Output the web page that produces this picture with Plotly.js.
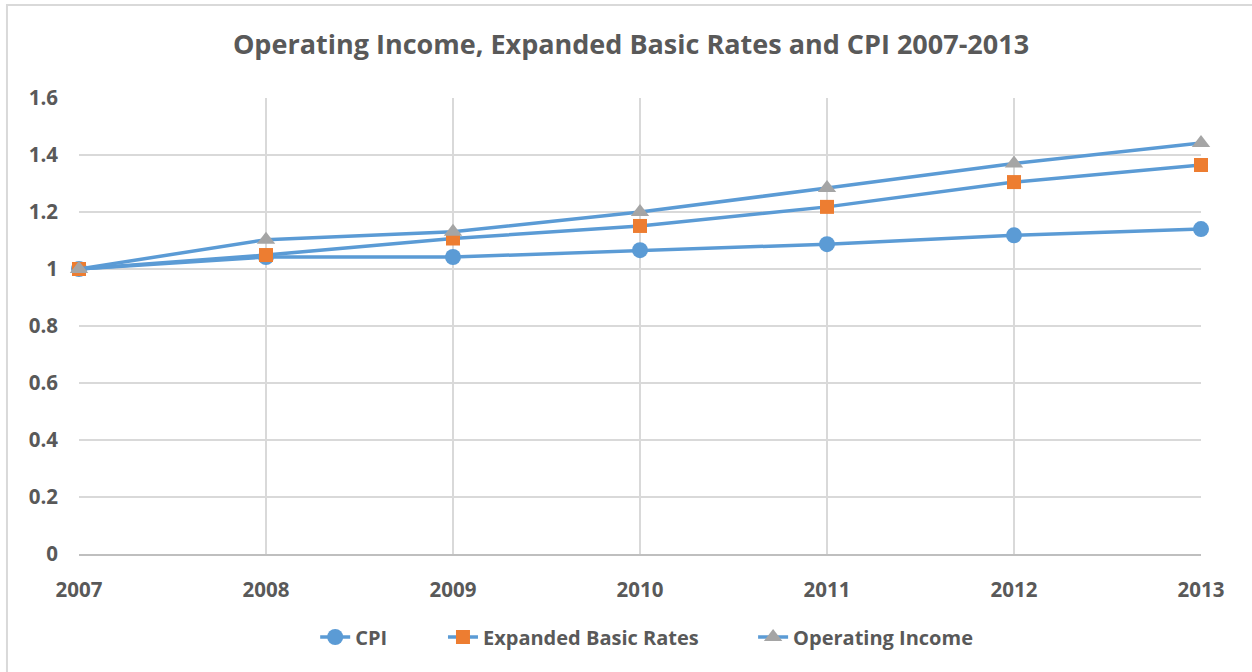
<!DOCTYPE html>
<html>
<head>
<meta charset="utf-8">
<script src="https://cdn.plot.ly/plotly-3.0.1.min.js"></script>
<style>html,body{margin:0;padding:0;background:#fff;}#chart{width:1252px;height:672px;}</style>
</head>
<body>
<div id="chart"></div>
<script>
var years = [2007, 2008, 2009, 2010, 2011, 2012, 2013];
var cpi = [1.0, 1.042, 1.042, 1.066, 1.087, 1.118, 1.140];
var expandedBasicRates = [1.0, 1.049, 1.107, 1.151, 1.218, 1.305, 1.365];
var operatingIncome = [1.0, 1.103, 1.131, 1.200, 1.284, 1.370, 1.442];
var yTicks = [0, 0.2, 0.4, 0.6, 0.8, 1, 1.2, 1.4, 1.6];
var yTickText = ['0', '0.2', '0.4', '0.6', '0.8', '1', '1.2', '1.4', '1.6'];

var lineColor = '#5B9BD5';
var font = 'Open Sans, sans-serif';
var textColor = '#595959';

var traces = [
  {x: years, y: cpi, name: 'CPI', mode: 'lines+markers', type: 'scatter', cliponaxis: false,
   legend: 'legend',
   line: {color: lineColor, width: 3.5},
   marker: {symbol: 'circle', size: 16, color: '#5B9BD5'}},
  {x: years, y: expandedBasicRates, name: 'Expanded Basic Rates', mode: 'lines+markers', type: 'scatter', cliponaxis: false,
   legend: 'legend2',
   line: {color: lineColor, width: 3.5},
   marker: {symbol: 'square', size: 14, color: '#ED7D31'}},
  {x: years, y: operatingIncome, name: 'Operating Income', mode: 'lines+markers', type: 'scatter', cliponaxis: false,
   legend: 'legend3',
   line: {color: lineColor, width: 3.5},
   marker: {symbol: 'triangle-up', size: 16, color: '#A5A5A5'}}
];

function legendAt(x) {
  return {orientation: 'h', x: x, xanchor: 'left', y: -0.182, yanchor: 'middle',
          bgcolor: 'rgba(0,0,0,0)',
          font: {family: font, size: 20, color: textColor, weight: 'bold'}};
}

var layout = {
  width: 1252, height: 672,
  margin: {l: 79, r: 51, t: 98, b: 118},
  paper_bgcolor: '#ffffff', plot_bgcolor: '#ffffff',
  font: {family: font, color: textColor},
  title: {text: '<b>Operating Income, Expanded Basic Rates and CPI 2007-2013</b>',
          font: {family: font, size: 27, color: textColor},
          x: 0.504, xanchor: 'center', y: 0.933, yanchor: 'middle'},
  xaxis: {range: [2007, 2013], tickvals: years, ticktext: years.map(String),
          showgrid: true, gridcolor: '#D9D9D9', gridwidth: 2,
          showline: true, linecolor: '#BFBFBF', linewidth: 2,
          zeroline: false, ticks: '', ticklabelstandoff: 16,
          tickfont: {family: font, size: 20.5, color: textColor, weight: 'bold'}},
  yaxis: {range: [0, 1.6], tickvals: yTicks, ticktext: yTickText,
          showgrid: true, gridcolor: '#D9D9D9', gridwidth: 2,
          showline: false, zeroline: false, ticks: '', ticklabelstandoff: 20,
          tickfont: {family: font, size: 20.5, color: textColor, weight: 'bold'}},
  showlegend: true,
  legend: legendAt(0.2105),
  legend2: legendAt(0.3244),
  legend3: legendAt(0.6008),
  shapes: [{type: 'rect', xref: 'paper', yref: 'paper',
            x0: -0.0642, x1: 1.06, y0: -0.30, y1: 1.204,
            line: {color: '#D9D9D9', width: 2}, fillcolor: 'rgba(0,0,0,0)', layer: 'below'}]
};

Plotly.newPlot('chart', traces, layout, {displayModeBar: false, staticPlot: true});
</script>
</body>
</html>
